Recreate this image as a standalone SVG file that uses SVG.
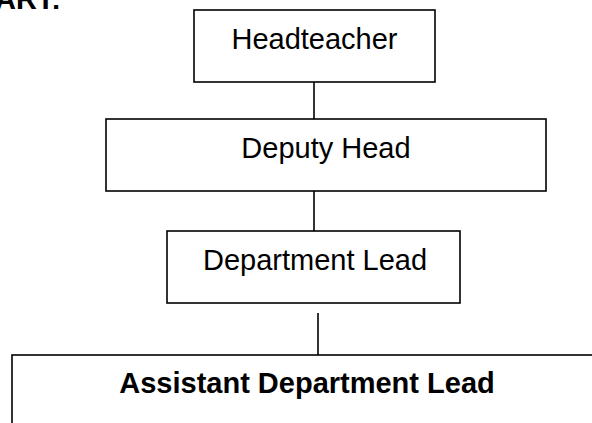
<svg xmlns="http://www.w3.org/2000/svg" width="592" height="423" viewBox="0 0 592 423">
  <style>
    .box { fill: #ffffff; stroke: #000000; stroke-width: 1.6; }
    .link { stroke: #000000; stroke-width: 1.6; fill: none; }
    .label { font-family: "Liberation Sans", Arial, sans-serif; font-size: 29px; fill: #000000; text-anchor: middle; }
    .bold { font-weight: bold; }
  </style>
  <rect width="592" height="423" fill="#ffffff"/>

  <!-- heading, clipped at the top edge -->
  <text x="61" y="9" class="label bold" style="text-anchor: end">ART:</text>

  <g id="connectors">
    <line class="link" x1="314" y1="82" x2="314" y2="119"/>
    <line class="link" x1="314" y1="191" x2="314" y2="231"/>
    <line class="link" x1="318" y1="313" x2="318" y2="355"/>
  </g>

  <g id="headteacher">
    <rect class="box" x="194" y="10" width="241" height="72"/>
    <text class="label" x="314.5" y="49">Headteacher</text>
  </g>

  <g id="deputy-head">
    <rect class="box" x="106" y="119" width="440" height="72"/>
    <text class="label" x="326" y="158">Deputy Head</text>
  </g>

  <g id="department-lead">
    <rect class="box" x="167" y="231" width="293" height="72"/>
    <text class="label" x="315" y="270">Department Lead</text>
  </g>

  <g id="assistant-department-lead">
    <rect class="box" x="12" y="355" width="600" height="100"/>
    <text class="label bold" x="307" y="393">Assistant Department Lead</text>
  </g>
</svg>
